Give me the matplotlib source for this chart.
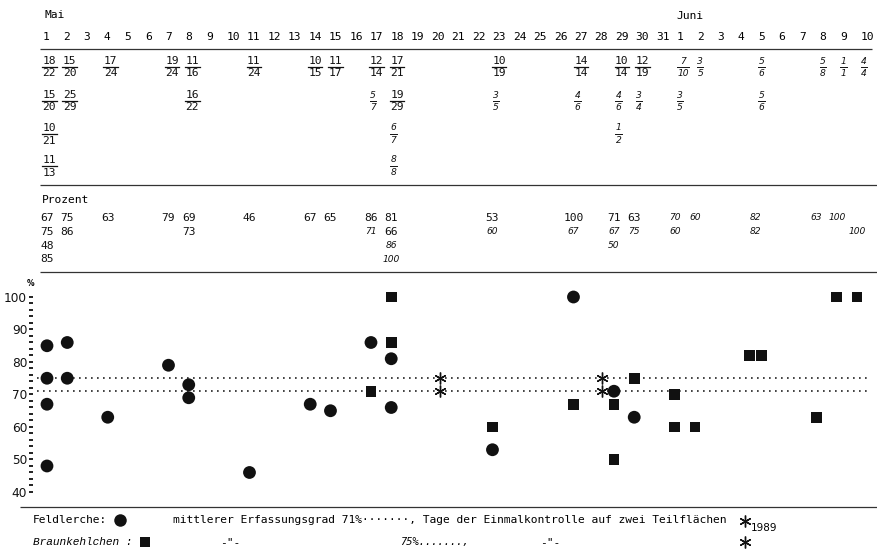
import matplotlib
matplotlib.use("Agg")
import matplotlib.pyplot as plt
from matplotlib.transforms import blended_transform_factory

# days: 1-31 May, 1-10 June (column index 0..40)
may_days = [str(d) for d in range(1, 32)]
june_days = [str(d) for d in range(1, 11)]
day_labels = may_days + june_days

# Feldlerche (circles)
lark_day = [0, 0, 0, 0, 1, 1, 3, 6, 7, 7, 10, 13, 14, 16, 17, 17, 22, 26, 28, 29]
lark_frac = ["18/22", "15/20", "10/21", "11/13", "15/20", "25/29", "17/24", "19/24",
             "11/16", "16/22", "11/24", "10/15", "11/17", "12/14", "17/21", "19/29",
             "10/19", "14/14", "10/14", "12/19"]
lark_pct = [67, 75, 48, 85, 75, 86, 63, 79, 69, 73, 46, 67, 65, 86, 81, 66, 53, 100, 71, 63]

# Braunkehlchen (squares)
chat_day = [16, 17, 17, 22, 26, 28, 28, 29, 31, 31, 32, 35, 35, 38, 39, 40]
chat_frac = ["5/7", "6/7", "8/8", "3/5", "4/6", "4/6", "1/2", "3/4", "7/10", "3/5",
             "3/5", "5/6", "5/6", "5/8", "1/1", "4/4"]
chat_pct = [71, 86, 100, 60, 67, 67, 50, 75, 70, 60, 60, 82, 82, 63, 100, 100]

# mean detection rate and single-check days (20 May, 28 May)
lark_mean = 71
chat_mean = 75
check_days = [19, 27]

mono = "DejaVu Sans Mono"
ink = "#111111"

fig = plt.figure(figsize=(8.77, 5.5), dpi=100)

# overlay in pixel coordinates for the typed table
ov = fig.add_axes([0, 0, 1, 1])
ov.set_xlim(0, 877)
ov.set_ylim(550, 0)
ov.axis("off")

# chart axes
ax = fig.add_axes([33 / 877, 43 / 550, 844 / 877, 227 / 550])
ax.set_xlim(-0.691, 40.99)
ax.set_ylim(35.38, 105.23)
ax.patch.set_alpha(0)
for s in ax.spines.values():
    s.set_visible(False)
ax.set_xticks([])
ax.set_yticks(range(40, 101, 10))
ax.set_yticks(range(40, 101, 2), minor=True)
ax.tick_params(axis="y", which="both", length=3.2, width=1.3, pad=1,
               labelsize=8.7, colors=ink)

cw = 6.75


def col_px(i):
    return 42.5 + 20.45 * i


def hline(y, x0, x1):
    ov.plot([x0, x1], [y, y], color="#333333", lw=0.9, solid_capstyle="butt")


# header
ov.text(col_px(0) + 2, 15, "Mai", ha="left", va="center", family=mono, size=8.1)
ov.text(col_px(31), 16, "Juni", ha="left", va="center", family=mono, size=8.1)
for i, lab in enumerate(day_labels):
    ov.text(col_px(i), 37, lab, ha="left", va="center", family=mono, size=8.1)

hline(49, 40, 872)
hline(185, 40, 877)
hline(272, 40, 877)
hline(507, 20, 877)

# fractions
frac_y = [61, 95, 128, 160]
frac_count = {}


def draw_frac(i, txt, italic):
    row = frac_count.get(i, 0)
    frac_count[i] = row + 1
    num, den = txt.split("/")
    n = max(len(num), len(den))
    xc = col_px(i) + n * cw / 2
    y = frac_y[row]
    if italic:
        kw = dict(family="DejaVu Sans", style="italic", size=6.6)
        w, lw = n * 5.4 + 1, 0.7
    else:
        kw = dict(family=mono, size=8.1)
        w, lw = n * cw + 1, 0.9
    ov.text(xc, y, num, ha="center", va="center", color=ink, **kw)
    ov.text(xc, y + 12.5, den, ha="center", va="center", color=ink, **kw)
    ov.plot([xc - w / 2, xc + w / 2], [y + 6.4] * 2, color=ink, lw=lw)


for d, f in zip(lark_day, lark_frac):
    draw_frac(d, f, False)
for d, f in zip(chat_day, chat_frac):
    draw_frac(d, f, True)

# percent block
ov.text(42, 200, "Prozent", ha="left", va="center", family=mono, size=8.1)
pct_y = [218, 232, 246, 259]
pct_used = {}
tr = blended_transform_factory(ax.transData, ov.transData)


def draw_pct(i, val, italic):
    txt = str(val)
    row = sum(1 for (d, r) in pct_used if d == i)
    if len(txt) >= 3 and pct_used.get((i - 1, row), 0) >= 3:
        row += 1
    pct_used[(i, row)] = len(txt)
    if italic:
        kw = dict(family="DejaVu Sans", style="italic", size=6.6)
    else:
        kw = dict(family=mono, size=8.1)
    ov.text(i, pct_y[row], txt, ha="center", va="center", transform=tr,
            color=ink, clip_on=False, **kw)


for d, v in zip(lark_day, lark_pct):
    draw_pct(d, v, False)
for d, v in zip(chat_day, chat_pct):
    draw_pct(d, v, True)

# dotted mean lines and check-day asterisks
dots = (0, (1, 2.6))
for m in (lark_mean, chat_mean):
    ax.plot([-0.5, 40.5], [m, m], ls=dots, lw=1.2, color="#222222", zorder=1)
    ax.plot([d + 0.4 for d in check_days], [m] * len(check_days), ls="none",
            marker=(6, 2, 0), ms=8.5, mew=1.0, color=ink, zorder=3)


# dodge identical points on the same day
def dodge(days, vals):
    xs = []
    for k, (d, v) in enumerate(zip(days, vals)):
        same = [j for j in range(len(days)) if days[j] == d and vals[j] == v]
        if len(same) > 1:
            xs.append(d + (-0.3 if same.index(k) == 0 else 0.3))
        else:
            xs.append(d)
    return xs


ax.scatter(dodge(lark_day, lark_pct), lark_pct, s=85, marker="o", color=ink,
           edgecolors="none", zorder=4)
ax.scatter(dodge(chat_day, chat_pct), chat_pct, s=58, marker="s", color=ink,
           edgecolors="none", zorder=4)

ov.text(31, 284, "%", ha="center", va="center", family="DejaVu Sans",
        size=5.5, weight="bold")

# legend
ov.text(33, 520, "Feldlerche:", ha="left", va="center", family=mono, size=8.1)
ov.plot(120, 520, marker="o", ms=9, color=ink, mew=0)
ov.text(173, 520,
        "mittlerer Erfassungsgrad 71%\u00b7\u00b7\u00b7\u00b7\u00b7\u00b7\u00b7, "
        "Tage der Einmalkontrolle auf zwei Teilfl\u00e4chen",
        ha="left", va="center", family=mono, size=8.1)
ov.plot(745, 521, marker=(6, 2, 0), ms=8.5, mew=1.0, color=ink)
ov.text(751, 528, "1989", ha="left", va="center", family="DejaVu Sans", size=7.5)

ov.text(33, 542, "Braunkehlchen :", ha="left", va="center",
        family="Liberation Mono", style="italic", size=8)
ov.plot(145, 542, marker="s", ms=7.8, color=ink, mew=0)
ov.text(230, 542, '-"-', ha="center", va="center", family=mono, size=8.1)
ov.text(400, 542, "75%.......,", ha="left", va="center", family=mono, size=7.5,
        style="italic")
ov.text(550, 542, '-"-', ha="center", va="center", family=mono, size=8.1)
ov.plot(745, 542, marker=(6, 2, 0), ms=8.5, mew=1.0, color=ink)

fig.savefig("out.png", dpi=100)
